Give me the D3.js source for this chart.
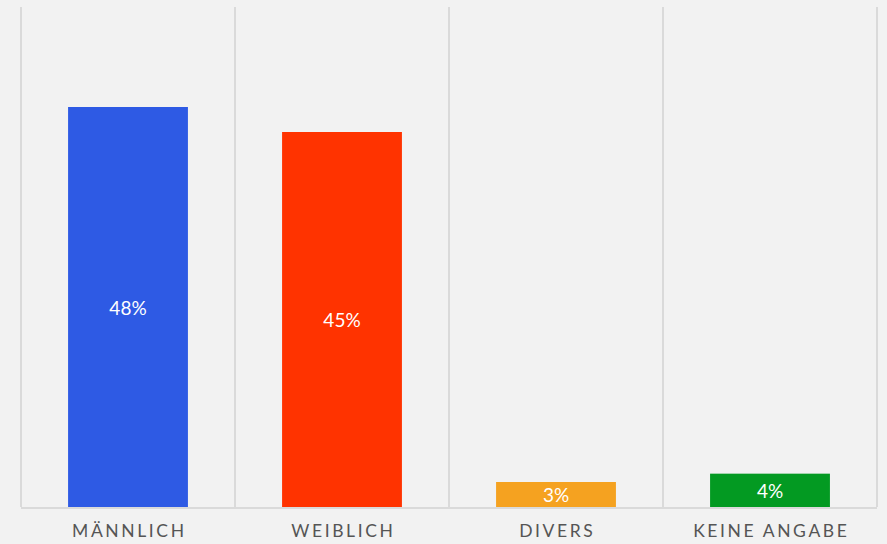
<!DOCTYPE html>
<html><head><meta charset="utf-8">
<script src="https://cdn.jsdelivr.net/npm/d3@7"></script>
<style>
html,body{margin:0;padding:0;background:#f2f2f2;}
svg{display:block;}
</style></head>
<body><svg id="c" width="887" height="544"></svg>
<script>
const categories = ["MÄNNLICH", "WEIBLICH", "DIVERS", "KEINE ANGABE"];
const values = [48, 45, 3, 4];
const colors = ["#2e5ae4", "#ff3300", "#f5a220", "#039a22"];

const W = 887, H = 544;
const svg = d3.select("#c");
svg.append("rect").attr("width", W).attr("height", H).attr("fill", "#f2f2f2");

const x = d3.scaleBand().domain(categories).range([21, 877]).padding(0);
const y = d3.scaleLinear().domain([0, 60]).range([507, 7]);
const barW = x.bandwidth() * 0.56;

// vertical gridlines at band boundaries
const bounds = categories.map(c => x(c)).concat([x.range()[1]]);
svg.append("g").selectAll("line").data(bounds).join("line")
  .attr("x1", d => d).attr("x2", d => d)
  .attr("y1", y(60)).attr("y2", y(0))
  .attr("stroke", "#dadada").attr("stroke-width", 2);

svg.append("g").selectAll("rect").data(values).join("rect")
  .attr("x", (d, i) => x(categories[i]) + (x.bandwidth() - barW) / 2)
  .attr("width", barW)
  .attr("y", d => y(d))
  .attr("height", d => y(0) - y(d))
  .attr("fill", (d, i) => colors[i]);

// baseline
svg.append("line").attr("x1", 21).attr("x2", 877).attr("y1", y(0) + 1).attr("y2", y(0) + 1)
  .attr("stroke", "#dadada").attr("stroke-width", 2);

// value labels
svg.append("g").selectAll("text").data(values).join("text")
  .attr("x", (d, i) => x(categories[i]) + x.bandwidth() / 2)
  .attr("y", d => (y(d) + y(0)) / 2)
  .attr("dy", "0.4em")
  .attr("text-anchor", "middle")
  .attr("fill", "#ffffff")
  .style("font-family", "Lato, 'Open Sans', sans-serif")
  .style("font-size", "19px")
  .text(d => d + "%");

// category labels
const xAxis = d3.axisBottom(x).tickSize(0).tickPadding(0);
const ax = svg.append("g").attr("transform", `translate(0,${y(0)})`).call(xAxis);
ax.select(".domain").remove();
ax.selectAll("text")
  .attr("y", 24).attr("dy", "0.35em")
  .attr("dx", "1.3px")
  .attr("fill", "#555555")
  .style("font-family", "Lato, 'Open Sans', sans-serif")
  .style("font-size", "17.5px")
  .style("letter-spacing", "2.6px");
</script></body></html>
